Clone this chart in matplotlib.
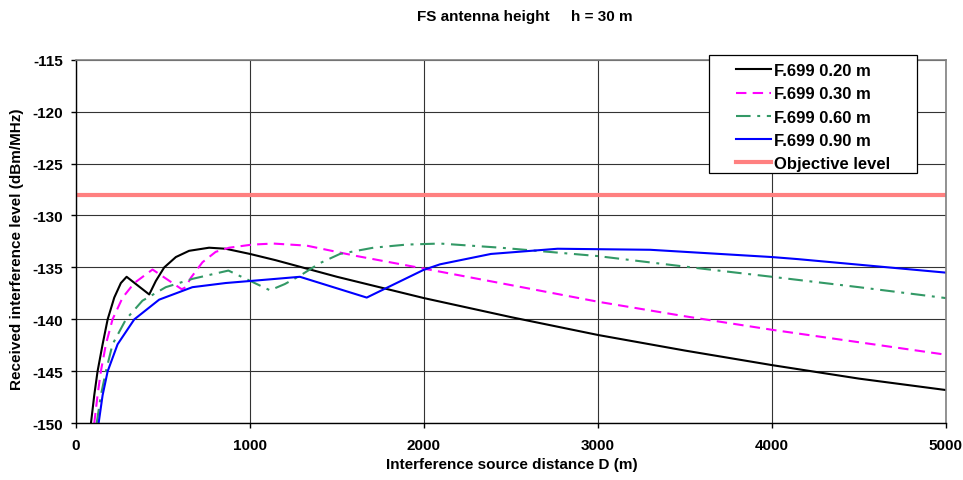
import numpy as np
import matplotlib
matplotlib.use('Agg')
import matplotlib.pyplot as plt
from matplotlib.patches import Rectangle

plt.rcParams['font.family'] = ['Liberation Sans', 'DejaVu Sans']
plt.rcParams['font.weight'] = 'bold'
plt.rcParams['axes.unicode_minus'] = False

# F.699 0.20 m
x020 = [86, 105, 124, 153, 182, 220, 258, 291, 421, 459, 507, 574, 650, 765, 860, 1000, 1147,
        1500, 2000, 2505, 3000, 3500, 4000, 4500, 5000]
y020 = [-150, -147.3, -145, -142.4, -140, -137.9, -136.5, -135.9, -137.6, -136.3, -135.0,
        -134.0, -133.4, -133.1, -133.2, -133.7, -134.3, -135.9, -137.95, -139.8, -141.5,
        -143.0, -144.4, -145.7, -146.8]

# F.699 0.30 m
x030 = [105, 124, 143, 172, 210, 268, 335, 440, 608, 631, 660, 727, 803, 880, 1013, 1134,
        1326, 1613, 1996, 2500, 3000, 3500, 4000, 4500, 5000]
y030 = [-150, -147.3, -145, -142.4, -140, -137.9, -136.5, -135.2, -137.1, -136.9, -136.0,
        -134.5, -133.5, -133.1, -132.8, -132.7, -132.9, -133.9, -135.1, -136.7, -138.3,
        -139.7, -141.0, -142.2, -143.4]

# F.699 0.60 m
x060 = [119, 143, 172, 210, 287, 382, 516, 669, 876, 1115, 1200, 1287, 1400, 1517, 1709,
        1900, 2092, 2440, 2995, 3590, 4000, 4500, 5000]
y060 = [-150, -147.3, -145, -142.4, -140, -138.2, -136.9, -136.1, -135.3, -137.2, -136.6,
        -135.8, -134.6, -133.7, -133.1, -132.8, -132.7, -133.1, -133.9, -135.1, -135.9,
        -136.9, -137.95]

# F.699 0.90 m
x090 = [130, 153, 182, 239, 335, 478, 669, 860, 1147, 1287, 1671, 1996, 2092, 2385, 2768,
        3300, 3600, 4000, 4150, 5000]
y090 = [-150, -147.3, -145, -142.4, -140, -138.1, -136.9, -136.5, -136.1, -135.9, -137.9,
        -135.25, -134.7, -133.7, -133.2, -133.3, -133.6, -134.0, -134.2, -135.5]

objective = -128

fig = plt.figure(figsize=(9.63, 4.81), dpi=100)
ax = fig.add_axes([0.0789, 0.1179, 0.9034, 0.756])

ax.plot(x020, y020, color='black', lw=1.5, label='F.699 0.20 m')
ax.plot(x030, y030, color='#FF00FF', lw=1.5, dashes=(5, 3), label='F.699 0.30 m')
ax.plot(x060, y060, color='#339966', lw=1.5, dashes=(7, 3.2, 1.4, 3.2), label='F.699 0.60 m')
ax.plot(x090, y090, color='#0000FF', lw=1.5, label='F.699 0.90 m')
ax.axhline(objective, color='#FF8080', lw=3, label='Objective level')

ax.set_xlim(0, 5000)
ax.set_ylim(-150, -115)
ax.set_xticks(np.arange(0, 5001, 1000))
ax.set_yticks(np.arange(-150, -114, 5))
ax.grid(True, color='#333333', lw=0.8)
ax.set_axisbelow(True)
for side in ['top', 'right']:
    ax.spines[side].set_color('#808080')
    ax.spines[side].set_linewidth(1.2)
for side in ['left', 'bottom']:
    ax.spines[side].set_color('black')
    ax.spines[side].set_linewidth(1.0)
ax.tick_params(labelsize=11, length=3.3, width=1, color='black')
ax.tick_params(axis='x', pad=7)
ax.tick_params(axis='y', pad=6)
for lab in ax.get_xticklabels() + ax.get_yticklabels():
    lab.set_fontweight('bold')

ax.set_xlabel('Interference source distance D (m)', fontsize=11, fontweight='bold')
ax.xaxis.set_label_coords(0.5006, -0.093)
ax.set_ylabel('Received interference level (dBm/MHz)', fontsize=11, fontweight='bold')
ax.yaxis.set_label_coords(-0.0598, 0.481)
fig.text(0.545, 0.957, 'FS antenna height     h = 30 m', fontsize=11, fontweight='bold',
         ha='center', va='baseline')

# legend box (wider side padding than the legend's own frame allows)
box = Rectangle((0.7276, 0.6884), 0.2387, 0.3254, transform=ax.transAxes, facecolor='white',
                edgecolor='black', lw=0.9, clip_on=False, zorder=5)
ax.add_patch(box)
leg = ax.legend(loc='upper left', bbox_to_anchor=(0.7583, 0.990), fontsize=12,
                frameon=False, handlelength=2.12, borderpad=0, borderaxespad=0,
                labelspacing=0.49, handletextpad=0.18)
leg.set_zorder(6)
for t in leg.get_texts():
    t.set_fontweight('bold')

fig.savefig('out.png', dpi=100)
